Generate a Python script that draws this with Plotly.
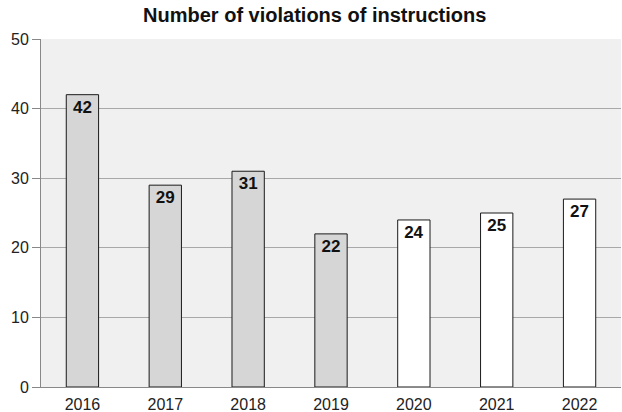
import plotly.graph_objects as go

years = ["2016", "2017", "2018", "2019", "2020", "2021", "2022"]
violations = [42, 29, 31, 22, 24, 25, 27]
bar_colors = ["#d6d6d6", "#d6d6d6", "#d6d6d6", "#d6d6d6", "#ffffff", "#ffffff", "#ffffff"]

fig = go.Figure(go.Bar(
    x=years, y=violations,
    marker=dict(color=bar_colors, line=dict(color="#1a1a1a", width=1)),
    text=[str(v) for v in violations],
    textposition="inside", insidetextanchor="end",
    textfont=dict(family="Liberation Sans, Arial", size=17, color="#111111", weight="bold"),
    textangle=0,
))

fig.update_layout(
    width=622, height=412,
    margin=dict(l=41, r=1, t=39, b=25, autoexpand=False),
    paper_bgcolor="white", plot_bgcolor="#f0f0f0",
    bargap=0.61,
    title=dict(text="<b>Number of violations of instructions</b>", x=0.506, xanchor="center",
               y=0.98, yanchor="top",
               font=dict(family="Liberation Sans, Arial", size=20, color="#111111")),
    font=dict(family="Liberation Sans, Arial", size=16, color="#222222"),
    showlegend=False,
)
fig.update_yaxes(range=[0, 50], dtick=10, showgrid=True, gridcolor="#a8a8a8", gridwidth=1,
                 showline=True, linecolor="#888888", linewidth=1,
                 ticks="outside", ticklen=8, tickcolor="#888888", zeroline=False,
                 tickfont=dict(size=16))
fig.update_xaxes(showline=True, linecolor="#888888", linewidth=1, ticks="", ticklabelstandoff=3,
                 tickfont=dict(size=16))

fig.write_html("out.html", config={"displayModeBar": False},
               post_script="document.body.style.margin='0';document.body.style.overflow='hidden';")
